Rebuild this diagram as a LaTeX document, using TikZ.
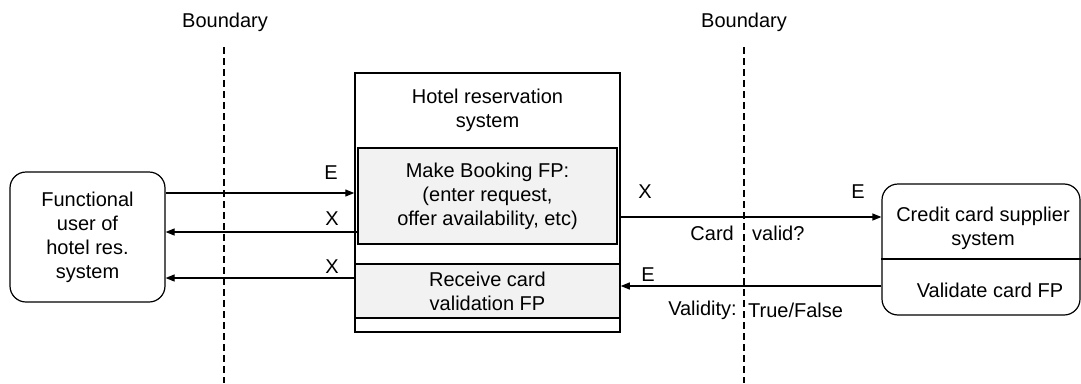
\documentclass[tikz,border=0pt]{standalone}
\usepackage{fontspec}
\setmainfont{Liberation Sans}
\usetikzlibrary{arrows.meta}
\definecolor{fpgray}{RGB}{242,242,242}

\begin{document}
\begin{tikzpicture}[
  x=1pt,y=-1pt,
  every node/.style={font=\fontsize{20}{24}\selectfont,inner sep=0pt,align=center},
  sysbox/.style={draw,rounded corners=16pt,line width=1.2pt},
  fpbox/.style={draw,fill=fpgray,line width=1.2pt},
  flow/.style={line width=1.2pt,-{Triangle[length=9pt,width=7pt]}},
  boundary/.style={line width=2.2pt,dash pattern=on 7pt off 4pt}
]
  \useasboundingbox (0,0) rectangle (1081,383);

  \node[sysbox,minimum width=155pt,minimum height=130pt] (user) at (87.5,237)
    {Functional\\user of\\hotel res.\\system};
  \node[draw,line width=1.5pt,minimum width=265pt,minimum height=259pt] (hotel) at (487.5,202.5) {};
  \node (hrs) at (487.5,110) {Hotel reservation\\system};
  \node[fpbox,minimum width=259pt,minimum height=96pt] (mb) at (487.5,196)
    {Make Booking FP:\\(enter request,\\offer availability, etc)};
  \node[fpbox,minimum width=265pt,minimum height=54pt] (rc) at (487.5,291)
    {Receive card\\validation FP};
  \node[sysbox,minimum width=198pt,minimum height=131pt] (ccs) at (981,249.5) {};
  \node (ccsname) at (983,228) {Credit card supplier\\system};
  \node (valfp) at (990,290) {Validate card FP};
  \draw[line width=1.2pt] (ccs.west |- 0,259) -- (ccs.east |- 0,259);

  \node (lb) at (225,22) {Boundary};
  \node (rb) at (744,22) {Boundary};
  \coordinate (lbtop) at (224,47);
  \coordinate (lbbot) at (224,383);
  \coordinate (rbtop) at (744,47);
  \coordinate (rbbot) at (744,383);
  \draw[boundary] (lbtop) -- (lbbot);
  \draw[boundary] (rbtop) -- (rbbot);

  \draw[flow] (user.east |- 0,193) -- (hotel.west |- 0,193);
  \draw[flow] (mb.west |- 0,232) -- (user.east |- 0,232);
  \draw[flow] (hotel.west |- 0,278) -- (user.east |- 0,278);
  \draw[flow] (hotel.east |- 0,217) -- (ccs.west |- 0,217);
  \draw[flow] (ccs.west |- 0,286) -- (hotel.east |- 0,286);

  \node (e1) at (331,173) {E};
  \node (x1) at (332,219) {X};
  \node (x2) at (332,267) {X};
  \node (x3) at (645,192) {X};
  \node (e2) at (858,192) {E};
  \node (e3) at (648,275) {E};
  \node[anchor=east] (card) at (734,233) {Card};
  \node[anchor=west] (valid) at (752,233) {valid?};
  \node[anchor=east] (vty) at (737,310) {Validity:};
  \node[anchor=west] (tf) at (748,310) {True/False};
\end{tikzpicture}
\end{document}
